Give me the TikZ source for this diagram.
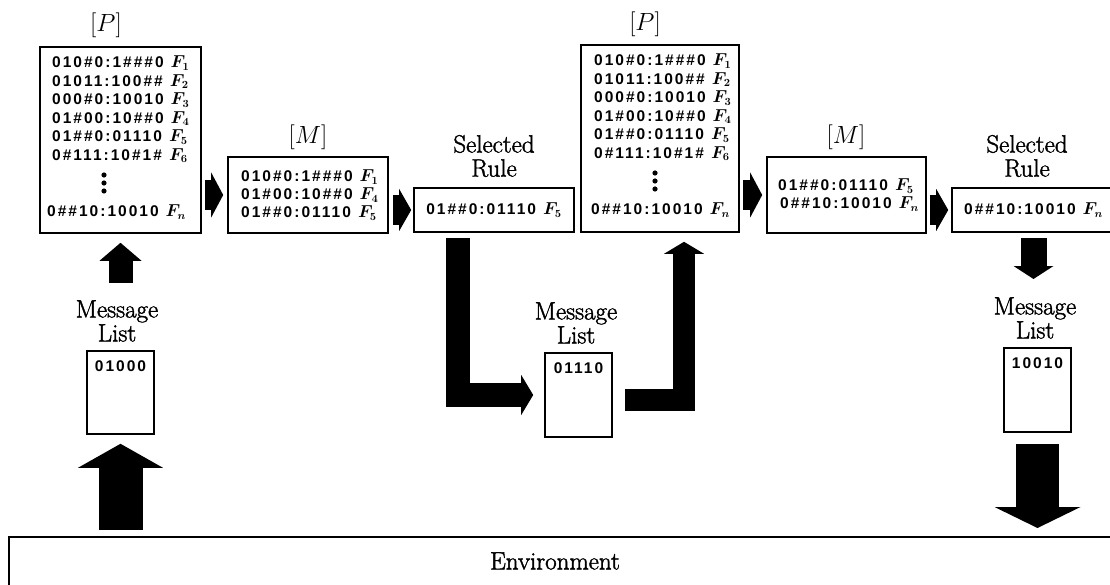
\documentclass[tikz,border=0pt]{standalone}
\usepackage{fontspec}
\newfontfamily\codefont{Liberation Sans}[LetterSpace=13]
\newfontfamily\titlefont{Latin Modern Roman}[FakeBold=1.6]
\usetikzlibrary{arrows.meta,calc}

\tikzset{
  panel/.style={draw, line width=1.6pt, inner sep=0pt},
  codetxt/.style={inner sep=0pt, font=\codefont\bfseries\fontsize{15.5}{15.5}\selectfont},
  row/.style={codetxt, anchor=west},
  title/.style={inner sep=0pt, align=center, font=\titlefont\fontsize{25}{24}\selectfont},
  setlabel/.style={inner sep=0pt, font=\fontsize{26}{26}\selectfont},
  fat/.style n args={3}{line width=#1, -{Triangle[width=#2, length=#3, line width=0pt]}},
}
\newcommand\Fsub[1]{{\fontsize{16}{16}\selectfont\boldmath$F_{#1}$}}
\newcommand\rl[2]{#1\hspace{7pt}\Fsub{#2}}

\begin{document}
\begin{tikzpicture}[x=1pt,y=-1pt]
\useasboundingbox (0,0) rectangle (1110,585);
\clip (0,0) rectangle (1110,585);
\fill[white] (0,0) rectangle (1110,585);

% ---- first production set [P]
\node[setlabel] (p1lab) at (106,25) {$[P]$};
\node[panel, minimum width=161pt, minimum height=186pt] (p1) at (120.5,140) {};
\node[row] (p1r1) at (52,63)    {\rl{010\#0:1\#\#\#0}{1}};
\node[row] (p1r2) at (52,81.5)  {\rl{01011:100\#\#}{2}};
\node[row] (p1r3) at (52,100)   {\rl{000\#0:10010}{3}};
\node[row] (p1r4) at (52,118.5) {\rl{01\#00:10\#\#0}{4}};
\node[row] (p1r5) at (52,137)   {\rl{01\#\#0:01110}{5}};
\node[row] (p1r6) at (52,155.5) {\rl{0\#111:10\#1\#}{6}};
\node[row] (p1rn) at (47,212)   {\rl{0\#\#10:10010}{n}};
\foreach \yy in {175,183,191} \fill (104,\yy) circle (2.6);

% ---- first match set [M]
\node[setlabel] (m1lab) at (308,137) {$[M]$};
\node[panel, minimum width=160pt, minimum height=76pt] (m1) at (308,195) {};
\node[row] (m1r1) at (241,177) {\rl{010\#0:1\#\#\#0}{1}};
\node[row] (m1r2) at (241,195) {\rl{01\#00:10\#\#0}{4}};
\node[row] (m1r3) at (241,213) {\rl{01\#\#0:01110}{5}};

% ---- first selected rule
\node[title] (sel1) at (494,156) {Selected\\Rule};
\node[panel, codetxt, minimum width=160pt, minimum height=44pt] (sr1) at (494,210) {\rl{01\#\#0:01110}{5}};

% ---- second production set [P]
\node[setlabel] (p2lab) at (645,24) {$[P]$};
\node[panel, minimum width=158pt, minimum height=187pt] (p2) at (660,138.5) {};
\node[row] (p2r1) at (594,61)    {\rl{010\#0:1\#\#\#0}{1}};
\node[row] (p2r2) at (594,79.5)  {\rl{01011:100\#\#}{2}};
\node[row] (p2r3) at (594,98)    {\rl{000\#0:10010}{3}};
\node[row] (p2r4) at (594,116.5) {\rl{01\#00:10\#\#0}{4}};
\node[row] (p2r5) at (594,135)   {\rl{01\#\#0:01110}{5}};
\node[row] (p2r6) at (594,153.5) {\rl{0\#111:10\#1\#}{6}};
\node[row] (p2rn) at (591,210)   {\rl{0\#\#10:10010}{n}};
\foreach \yy in {173,181,189} \fill (655,\yy) circle (2.6);

% ---- second match set [M]
\node[setlabel] (m2lab) at (846,137) {$[M]$};
\node[panel, minimum width=159pt, minimum height=76pt] (m2) at (846.5,195) {};
\node[row] (m2r1) at (778,186) {\rl{01\#\#0:01110}{5}};
\node[row] (m2r2) at (780,204) {\rl{0\#\#10:10010}{n}};

% ---- second selected rule (runs off the right edge)
\node[title] (sel2) at (1027,156) {Selected\\Rule};
\node[panel, codetxt, minimum width=163pt, minimum height=44pt] (sr2) at (1033.5,210) {\rl{0\#\#10:10010}{n}};

% ---- message lists
\node[title] (ml1lab) at (117,321) {Message\\List};
\node[panel, minimum width=67pt, minimum height=83pt] (ml1) at (120.5,392.5) {};
\node[codetxt, anchor=north] (ml1txt) at ([yshift=-10pt]ml1.north) {01000};

\node[title] (ml2lab) at (576,323) {Message\\List};
\node[panel, minimum width=67pt, minimum height=84pt] (ml2) at (578.5,395) {};
\node[codetxt, anchor=north] (ml2txt) at ([yshift=-10pt]ml2.north) {01110};

\node[title] (ml3lab) at (1035,318) {Message\\List};
\node[panel, minimum width=67pt, minimum height=84pt] (ml3) at (1037.5,390) {};
\node[codetxt, anchor=north] (ml3txt) at ([yshift=-10pt]ml3.north) {10010};

% ---- environment
\node[panel, anchor=north west, minimum width=1120pt, minimum height=70pt] (env) at (8,536) {};
\node[title] (envtxt) at (555,561) {Environment};

% ---- free arrow ends
\coordinate (up1tail) at (120.5,283);
\coordinate (dntip) at (1033.5,279);

% ---- block arrows
\draw[fat={24pt}{42pt}{18pt}, shorten >=9pt] (up1tail) -- (p1.south);
\draw[fat={44pt}{85pt}{24pt}, shorten <=6pt, shorten >=9pt] (env.north -| ml1) -- (ml1.south);

\draw[fat={30pt}{45pt}{12pt}, shorten <=3pt, shorten >=4pt] (p1.east |- m1.west) -- (m1.west);
\draw[fat={30pt}{42pt}{12pt}, shorten <=4pt, shorten >=2pt] (m1.east |- sr1.west) -- (sr1.west);
\draw[fat={30pt}{45pt}{12pt}, shorten <=3pt, shorten >=4pt] (p2.east |- m2.west) -- (m2.west);
\draw[fat={30pt}{42pt}{12pt}, shorten <=3pt, shorten >=3pt] (m2.east |- sr2.west) -- (sr2.west);

\draw[fat={24pt}{40pt}{12pt}, line join=miter, shorten <=5pt, shorten >=11pt]
  ([xshift=-36pt]sr1.south) |- (ml2.west);
\draw[fat={22pt}{40pt}{12pt}, line join=miter, shorten <=12pt, shorten >=9pt]
  ([yshift=-5pt]ml2.east) -| ([xshift=24pt]p2.south);

\draw[fat={26pt}{40pt}{13pt}, shorten <=5pt] (sr2.south) -- (dntip);
\draw[fat={43pt}{86pt}{21pt}, shorten <=11pt, shorten >=8pt] (ml3.south) -- (env.north -| ml3);
\end{tikzpicture}
\end{document}
